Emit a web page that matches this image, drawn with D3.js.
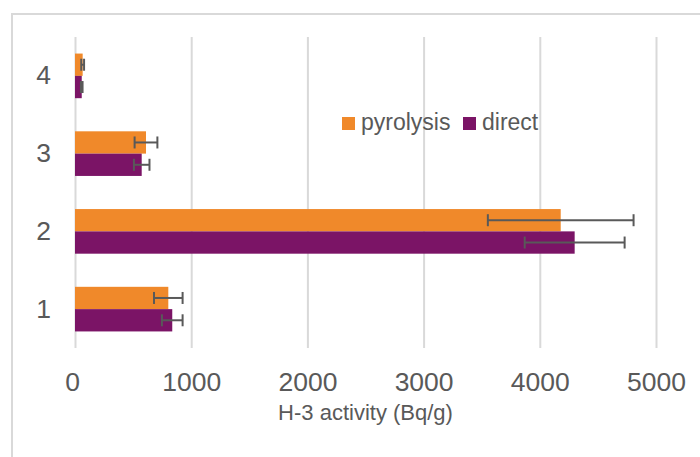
<!DOCTYPE html>
<html>
  <head>
    <meta charset="utf-8">
    <script src="https://d3js.org/d3.v7.min.js"></script>
    <title>H-3 activity</title>
    <style>
      body {
        margin: 0px;
        background: white;
      }
      text {
        font-family: 'Liberation Sans', Arial, sans-serif;
        fill: #595959;
      }
      .tick text {
        font-size: 26.5px;
      }
      .axis-label {
        font-size: 22px;
      }
      .legend text {
        font-size: 23px;
      }
    </style>
  </head>
  <body>
    <div id="graph"></div>
    <script>

      // data
      const categories = ['1', '2', '3', '4'];
      const seriesNames = ['pyrolysis', 'direct'];
      const pyrolysis = [803, 4180, 611, 66];
      const pyrolysisErr = [123, 627, 98, 12];
      const direct = [837, 4300, 574, 58];
      const directErr = [89, 430, 67, 7];
      const xTicks = [0, 1000, 2000, 3000, 4000, 5000];

      const colors = { pyrolysis: '#f0892a', direct: '#7b1466' };
      const xLabel = 'H-3 activity (Bq/g)';

      const width = 700;
      const height = 457;
      const plot = { left: 75, right: 656, top: 37, bottom: 348 };

      const svg = d3.select('#graph').append('svg')
        .attr('width', width)
        .attr('height', height);

      // chart frame
      svg.append('rect')
        .attr('x', 12)
        .attr('y', 14)
        .attr('width', width)
        .attr('height', height)
        .attr('fill', 'none')
        .attr('stroke', '#d9d9d9')
        .attr('stroke-width', 2);

      const xScale = d3.scaleLinear()
        .domain([0, 5000])
        .range([plot.left, plot.right]);

      const yScale = d3.scaleBand()
        .domain(categories.slice().reverse())
        .range([plot.top, plot.bottom]);

      const step = yScale.bandwidth();
      const subScale = d3.scaleBand()
        .domain(seriesNames)
        .range([step * 0.213, step * 0.787]);

      const xAxis = d3.axisBottom(xScale)
        .tickValues(xTicks)
        .tickFormat(d3.format('d'))
        .tickSize(-(plot.bottom - plot.top))
        .tickPadding(24.5);

      const xAxisG = svg.append('g')
        .attr('transform', `translate(0,${plot.bottom})`)
        .call(xAxis);
      xAxisG.select('.domain').remove();
      xAxisG.selectAll('.tick line')
        .attr('stroke', '#d9d9d9')
        .attr('stroke-width', 2);
      // Excel nudges the first label a bit left
      xAxisG.selectAll('.tick text')
        .attr('dx', d => d === 0 ? -3 : 0);

      const yAxis = d3.axisLeft(yScale)
        .tickSize(0)
        .tickPadding(24);
      const yAxisG = svg.append('g')
        .attr('transform', `translate(${plot.left},0)`)
        .call(yAxis);
      yAxisG.select('.domain').remove();

      svg.selectAll('.tick text').attr('fill', '#595959');

      svg.append('text')
        .attr('class', 'axis-label')
        .attr('x', (plot.left + plot.right) / 2)
        .attr('y', 420)
        .attr('text-anchor', 'middle')
        .text(xLabel);

      const rows = [];
      categories.forEach((c, i) => {
        rows.push({ cat: c, series: 'pyrolysis', value: pyrolysis[i], err: pyrolysisErr[i] });
        rows.push({ cat: c, series: 'direct', value: direct[i], err: directErr[i] });
      });

      const barY = d => yScale(d.cat) + subScale(d.series);

      svg.append('g').selectAll('rect').data(rows)
        .enter().append('rect')
          .attr('x', xScale(0))
          .attr('y', barY)
          .attr('width', d => xScale(d.value) - xScale(0))
          .attr('height', subScale.bandwidth())
          .attr('fill', d => colors[d.series]);

      // error bars
      const errG = svg.append('g')
        .attr('stroke', '#595959')
        .attr('stroke-width', 2);
      const capH = 6;
      rows.forEach(d => {
        const cy = barY(d) + subScale.bandwidth() / 2;
        const x0 = xScale(d.value - d.err);
        const x1 = xScale(d.value + d.err);
        errG.append('line').attr('x1', x0).attr('x2', x1).attr('y1', cy).attr('y2', cy);
        errG.append('line').attr('x1', x0).attr('x2', x0).attr('y1', cy - capH).attr('y2', cy + capH);
        errG.append('line').attr('x1', x1).attr('x2', x1).attr('y1', cy - capH).attr('y2', cy + capH);
      });

      // legend
      const legendG = svg.append('g').attr('class', 'legend');
      const legendX = [342, 463];
      seriesNames.forEach((s, i) => {
        legendG.append('rect')
          .attr('x', legendX[i])
          .attr('y', 117)
          .attr('width', 13)
          .attr('height', 13)
          .attr('fill', colors[s]);
        legendG.append('text')
          .attr('x', legendX[i] + 19)
          .attr('y', 130)
          .text(s);
      });

    </script>
  </body>
</html>
